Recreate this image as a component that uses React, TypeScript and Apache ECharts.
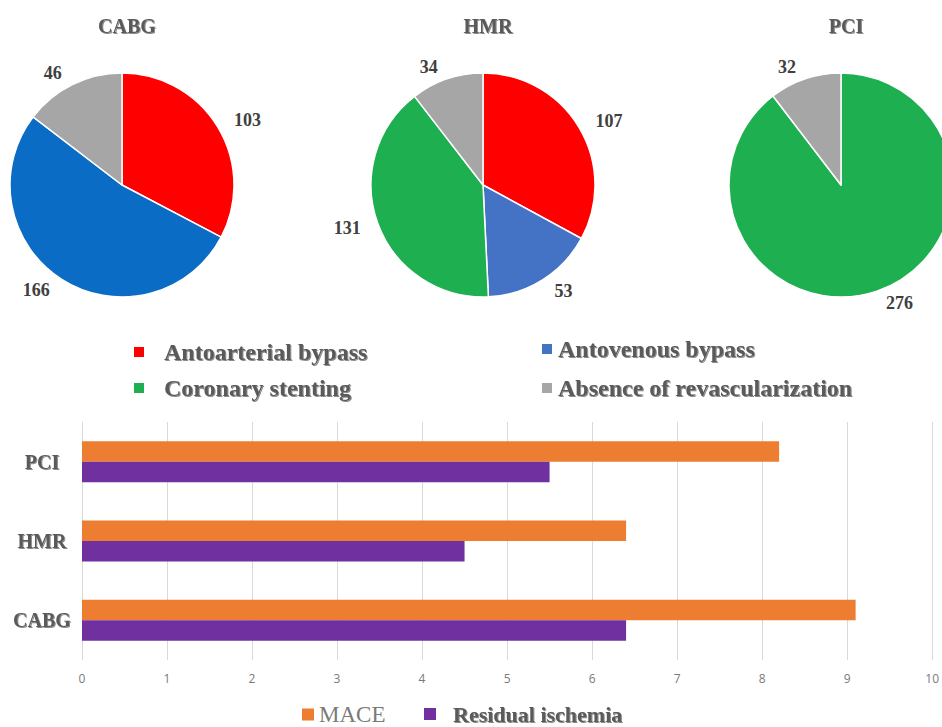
import React, { useEffect, useRef } from "react";
import * as echarts from "echarts";

// ---- Pie data ----
const cabgNames = ["Antoarterial bypass", "Antovenous bypass", "Absence of revascularization"];
const cabgValues = [103, 166, 46];
const hmrNames = ["Antoarterial bypass", "Antovenous bypass", "Coronary stenting", "Absence of revascularization"];
const hmrValues = [107, 53, 131, 34];
const pciNames = ["Coronary stenting", "Absence of revascularization"];
const pciValues = [276, 32];
const pieTitles = ["CABG", "HMR", "PCI"];

// ---- Bar data ----
const barCategories = ["CABG", "HMR", "PCI"];
const maceValues = [9.1, 6.4, 8.2];
const residualValues = [6.4, 4.5, 5.5];
const xTicks = [0, 10, 1]; // min, max, interval

const SERIF = "'Liberation Serif', 'Times New Roman', serif";
const colorMap: Record<string, string> = {
  "Antoarterial bypass": "#FF0000",
  "Antovenous bypass": "#4472C4",
  "Coronary stenting": "#1DAF50",
  "Absence of revascularization": "#A6A6A6",
};
const cabgBlue = "#0A6CC4";

const shadowText = {
  fontFamily: SERIF,
  fontWeight: "bold" as const,
  color: "#5a5a5a",
  textShadowColor: "rgba(0,0,0,0.45)",
  textShadowBlur: 1,
  textShadowOffsetX: 1,
  textShadowOffsetY: 1,
};

function pieSeries(name: string, names: string[], values: number[], cx: number, blue?: string) {
  return {
    type: "pie",
    name,
    center: [cx, 185],
    radius: 112,
    startAngle: 90,
    clockwise: true,
    avoidLabelOverlap: false,
    itemStyle: { borderColor: "#ffffff", borderWidth: 1.5 },
    label: {
      show: true,
      position: "outside",
      formatter: "{c}",
      fontFamily: SERIF,
      fontWeight: "bold",
      fontSize: 18,
      color: "#404040",
    },
    labelLine: { show: false, length: 13, length2: 0 },
    data: names.map((n, i) => ({
      name: n,
      value: values[i],
      itemStyle: { color: n === "Antovenous bypass" && blue ? blue : colorMap[n] },
    })),
  };
}

function legendItem(name: string, left: number, top: number, pad: number, color: string, text: any) {
  return {
    data: [{ name, itemStyle: { color } }],
    left,
    top,
    selectedMode: false,
    icon: "rect",
    itemWidth: 12,
    itemHeight: 12,
    padding: 0,
    textStyle: { ...text, padding: [0, 0, 0, pad] },
  };
}

export default function App() {
  const ref = useRef<HTMLDivElement>(null);
  useEffect(() => {
    if (!ref.current) return;
    const chart = echarts.init(ref.current, undefined, { renderer: "svg" });
    const legendText = { ...shadowText, fontSize: 24, lineHeight: 24 };
    const option: any = {
      animation: false,
      backgroundColor: "#ffffff",
      title: pieTitles.map((t, i) => ({
        text: t,
        left: [122, 483, 841][i],
        top: 11,
        textAlign: "center",
        textStyle: { ...shadowText, fontSize: 20 },
      })),
      legend: [
        legendItem("Antoarterial bypass", 132, 340, 14, colorMap["Antoarterial bypass"], legendText),
        legendItem("Coronary stenting", 132, 376, 14, colorMap["Coronary stenting"], legendText),
        legendItem("Antovenous bypass", 540, 337, 0, colorMap["Antovenous bypass"], legendText),
        legendItem("Absence of revascularization", 540, 376, 0, colorMap["Absence of revascularization"], legendText),
        legendItem("MACE", 302, 703, 0, "#ED7D31", { fontFamily: SERIF, fontSize: 23, lineHeight: 22, color: "#7a7a7a" }),
        legendItem("Residual ischemia", 424, 703, 12, "#7030A0", { ...shadowText, fontSize: 22, lineHeight: 22 }),
      ],
      grid: { left: 82, right: 3, top: 422, bottom: 67, containLabel: false },
      xAxis: {
        type: "value",
        min: xTicks[0],
        max: xTicks[1],
        interval: xTicks[2],
        axisLine: { show: false },
        axisTick: { show: false },
        splitLine: { show: true, lineStyle: { color: "#d9d9d9", width: 1 } },
        axisLabel: { margin: 12, fontSize: 12, color: "#7a7a7a", fontFamily: "'Open Sans', sans-serif" },
      },
      yAxis: {
        type: "category",
        data: barCategories,
        axisLine: { show: false },
        axisTick: { show: false },
        axisLabel: { ...shadowText, fontSize: 20, margin: 40, align: "center" },
      },
      series: [
        pieSeries("CABG", cabgNames, cabgValues, 122, cabgBlue),
        pieSeries("HMR", hmrNames, hmrValues, 483),
        pieSeries("PCI", pciNames, pciValues, 841),
        {
          type: "bar",
          name: "MACE",
          data: maceValues,
          barWidth: 20.5,
          barGap: "0%",
          itemStyle: { color: "#ED7D31" },
        },
        {
          type: "bar",
          name: "Residual ischemia",
          data: residualValues,
          barWidth: 20.5,
          barGap: "0%",
          itemStyle: { color: "#7030A0" },
        },
      ],
    };
    chart.setOption(option);
    return () => chart.dispose();
  }, []);
  return (
    <div
      ref={ref}
      style={{ position: "fixed", left: 0, top: 0, width: 942, height: 727 }}
    />
  );
}
